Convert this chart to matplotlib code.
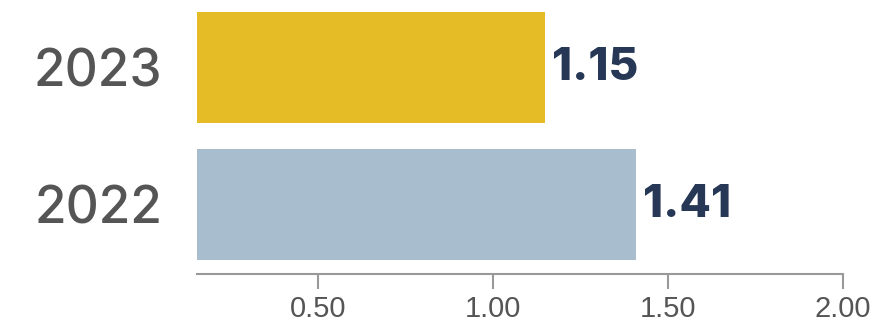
import matplotlib.pyplot as plt
from matplotlib import font_manager

years = ['2022', '2023']
values = [1.41, 1.15]
bar_colors = ['#a8bece', '#e5bc26']
ticks = [0.5, 1.0, 1.5, 2.0]
tick_labels = ['0.50', '1.00', '1.50', '2.00']


def pick_font(names):
    installed = {f.name for f in font_manager.fontManager.ttflist}
    for name in names:
        if name in installed:
            return name
    return 'DejaVu Sans'


year_font = pick_font(['Inter', 'Lato', 'Noto Sans'])
value_font = pick_font(['Inter', 'Lato', 'Noto Sans'])
tick_font = pick_font(['Liberation Sans Narrow', 'Liberation Sans'])

fig = plt.figure(figsize=(8.71, 3.23), dpi=100)
ax = fig.add_axes([197 / 871, 49 / 323, 646 / 871, 274 / 323])

y = list(range(len(years)))
ax.barh(y, values, height=0.81, color=bar_colors, left=0)

for yi, v in zip(y, values):
    ax.text(v + 0.02, yi, f'{v:.2f}', va='center', ha='left',
            fontsize=33, fontweight='heavy', family=value_font, color='#263855')

ax.set_xlim(0.155, 2.0)
ax.set_ylim(-0.507, 1.493)

ax.set_yticks(y)
ax.set_yticklabels(years, fontsize=37, fontweight='medium',
                   family=year_font, color='#555555')
ax.tick_params(axis='y', length=0, pad=25)

ax.set_xticks(ticks)
ax.set_xticklabels(tick_labels, fontsize=21, family=tick_font, color='#555555')
ax.tick_params(axis='x', length=11, width=1.5, color='#999999', pad=4)

for side in ['top', 'right', 'left']:
    ax.spines[side].set_visible(False)
ax.spines['bottom'].set_color('#999999')
ax.spines['bottom'].set_linewidth(1.5)

fig.savefig('out.png', dpi=100)
